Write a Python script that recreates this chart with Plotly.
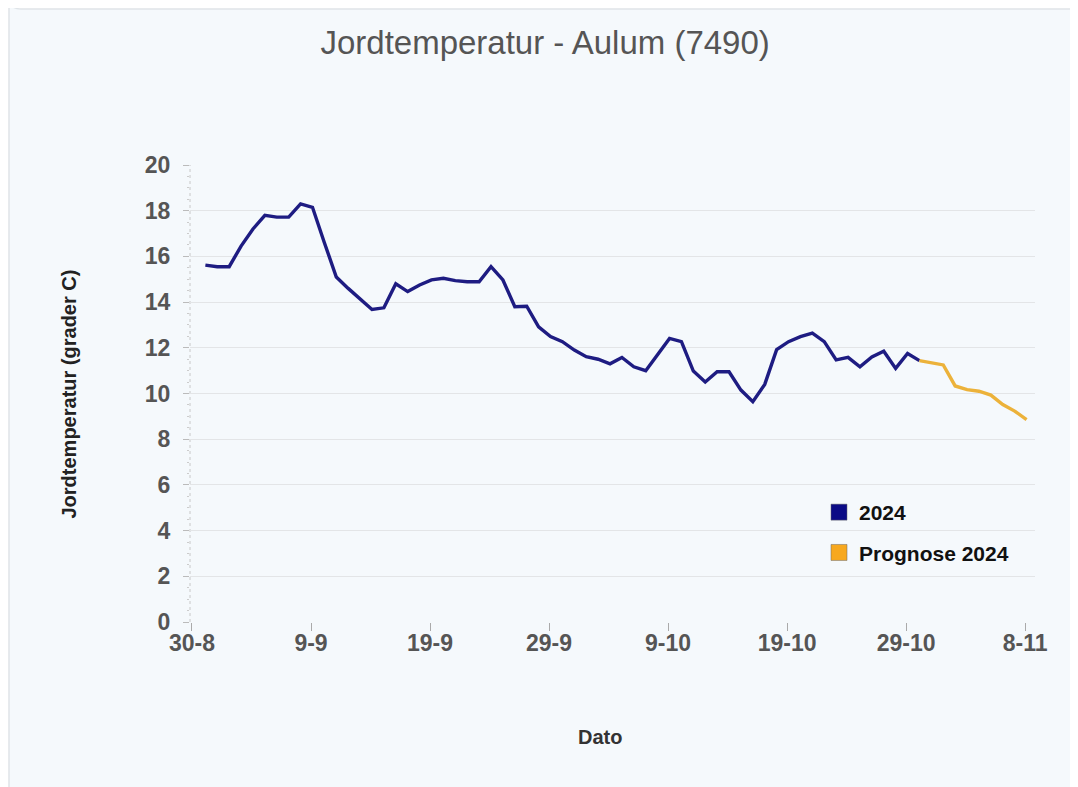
import plotly.graph_objects as go
import pandas as pd

# ---------------- data ----------------
title_text = "Jordtemperatur - Aulum (7490)"
y_title = "Jordtemperatur (grader C)"
x_title = "Dato"
series_names = ["2024", "Prognose 2024"]

obs_start = "2024-08-31 03:00"
obs_values = [
    15.62, 15.55, 15.55, 16.45, 17.2, 17.8, 17.72, 17.72, 18.3, 18.15,
    16.6, 15.1, 14.6, 14.15, 13.68, 13.75, 14.8, 14.46, 14.75, 14.97,
    15.04, 14.94, 14.89, 14.89, 15.55, 14.97, 13.8, 13.82, 12.92, 12.49,
    12.27, 11.9, 11.61, 11.5, 11.3, 11.58, 11.17, 11.0, 11.7, 12.41,
    12.27, 10.98, 10.5, 10.95, 10.95, 10.15, 9.64, 10.4, 11.92, 12.27,
    12.49, 12.64, 12.27, 11.47, 11.58, 11.17, 11.6, 11.85, 11.1, 11.75,
    11.44,
]
fc_values = [11.44, 11.36, 11.25, 10.33, 10.17, 10.1, 9.93, 9.52, 9.23, 8.86]

tick_dates = ["2024-08-30", "2024-09-09", "2024-09-19", "2024-09-29",
              "2024-10-09", "2024-10-19", "2024-10-29", "2024-11-08"]
tick_labels = ["30-8", "9-9", "19-9", "29-9", "9-10", "19-10", "29-10", "8-11"]
y_ticks = [0, 2, 4, 6, 8, 10, 12, 14, 16, 18, 20]
x_range = ["2024-08-29 20:00", "2024-11-08 20:00"]

obs_dates = pd.date_range(obs_start, periods=len(obs_values), freq="D")
fc_dates = pd.date_range(obs_dates[-1], periods=len(fc_values), freq="D")

# ---------------- style ----------------
NAVY_LINE = "#1e1c82"
NAVY_BOX = "#0b0b86"
ORANGE_LINE = "#ecb23a"
ORANGE_BOX = "#f7a81e"
FONT = "Liberation Sans, Arial, sans-serif"

W, H = 1070, 779
L, R, T, B = 182, 43, 157, 165

fig = go.Figure()
fig.add_trace(go.Scatter(x=obs_dates, y=obs_values, mode="lines",
                         line=dict(color=NAVY_LINE, width=3.4),
                         showlegend=False, hoverinfo="x+y"))
fig.add_trace(go.Scatter(x=fc_dates, y=fc_values, mode="lines",
                         line=dict(color=ORANGE_LINE, width=3.4),
                         showlegend=False, hoverinfo="x+y"))
# legend entries (square swatches)
for name, col, grp in [(series_names[0], NAVY_BOX, "a"), (series_names[1], ORANGE_BOX, "b")]:
    fig.add_trace(go.Scatter(x=[None], y=[None], mode="markers", name=name,
                             legendgroup=grp,
                             marker=dict(symbol="square", size=16, color=col,
                                         line=dict(color="#666", width=0.5))))

# panel background (rounded rectangle) in paper coords
pw, ph = W - L - R, H - T - B
def px(xp):
    return (xp - L) / pw
def py(yp):
    return (H - B - yp) / ph
x0, x1, y0, y1 = px(1), px(1090), py(1), py(800)
rx, ry = 12 / pw, 12 / ph
path = (f"M {x0+rx},{y0} L {x1},{y0} L {x1},{y1} L {x0},{y1} "
        f"L {x0},{y0+ry} Q {x0},{y0} {x0+rx},{y0} Z")

fig.update_layout(
    width=W, height=H,
    margin=dict(l=L, r=R, t=T, b=B, autoexpand=False),
    paper_bgcolor="white",
    plot_bgcolor="rgba(0,0,0,0)",
    font=dict(family=FONT, color="#555"),
    title=dict(text=title_text, x=0.502, xanchor="center", xref="container",
               y=1 - 34 / H, yanchor="middle", yref="container",
               font=dict(size=33, color="#555", family=FONT)),
    shapes=[
        dict(type="path", path=path, xref="paper", yref="paper", layer="below",
             fillcolor="#f5f9fc", line=dict(color="#dfe4e8", width=1.5)),
        dict(type="line", xref="paper", yref="paper", x0=0, x1=0, y0=0, y1=1,
             layer="below", line=dict(color="#c8c8c8", width=1, dash="dot")),
    ],
    annotations=[
        dict(text=x_title, xref="paper", yref="paper", x=px(592), y=py(729),
             xanchor="center", yanchor="middle", showarrow=False,
             font=dict(size=20, color="#333", weight="bold", family=FONT)),
        dict(text=y_title, xref="paper", yref="paper", x=px(60), y=0.5,
             xanchor="center", yanchor="middle", showarrow=False, textangle=-90,
             font=dict(size=20, color="#222", weight="bold", family=FONT)),
    ],
    xaxis=dict(
        type="date", range=x_range,
        tickvals=tick_dates, ticktext=tick_labels,
        showgrid=False, zeroline=False, showline=False,
        ticks="outside", ticklen=8, tickcolor="#aaa", tickwidth=1,
        ticklabelstandoff=-8,
        tickfont=dict(size=23, color="#555", weight="bold", family=FONT),
    ),
    yaxis=dict(
        range=[0, 20], tickvals=y_ticks,
        showgrid=True, gridcolor="#e3e5e7", gridwidth=1,
        zeroline=False, showline=False,
        ticks="outside", ticklen=6, tickcolor="#bbb",
        ticklabelstandoff=8,
        minor=dict(dtick=0.5, ticks="outside", ticklen=2, tickcolor="#ccc", showgrid=False),
        tickfont=dict(size=23, color="#555", weight="bold", family=FONT),
    ),
    legend=dict(x=px(811), y=py(484), xanchor="left", yanchor="top",
                bgcolor="rgba(0,0,0,0)", tracegroupgap=10,
                traceorder="grouped",
                font=dict(size=21, color="#111", weight="bold", family=FONT)),
)

fig.write_html("out.html")
